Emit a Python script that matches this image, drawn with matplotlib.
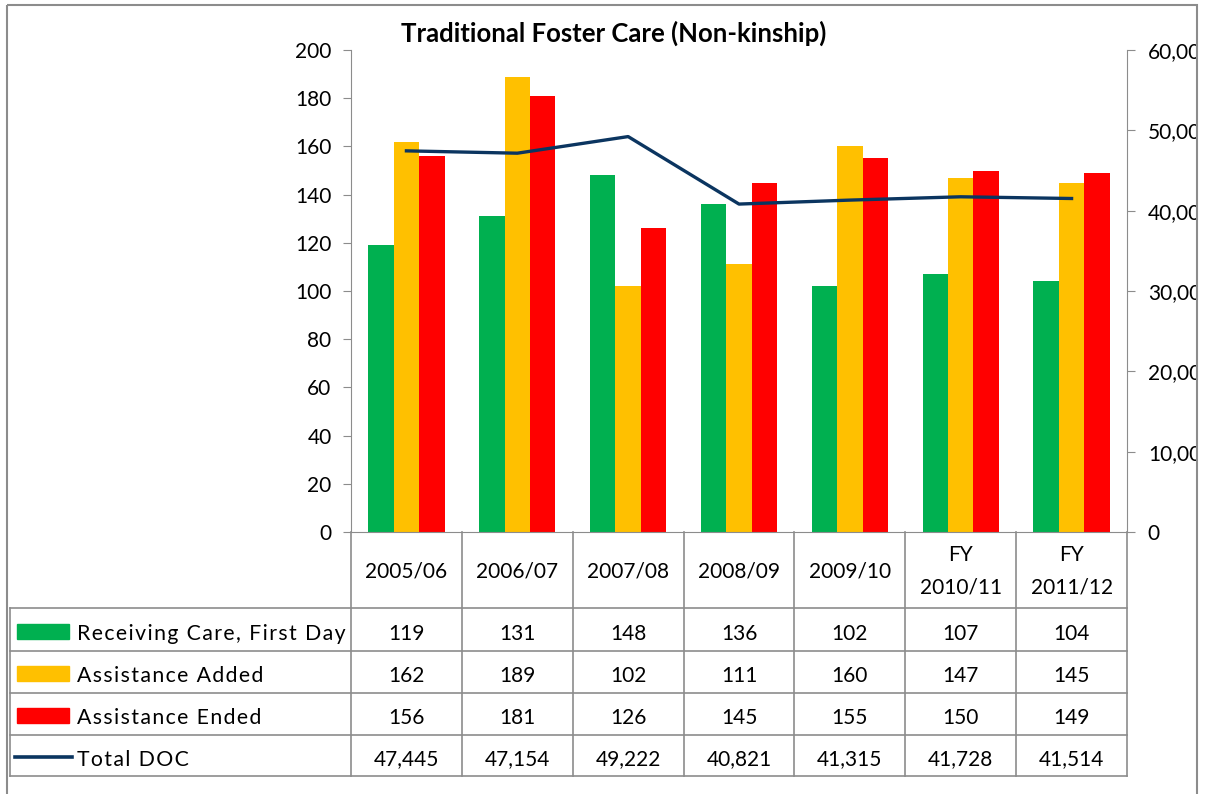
import numpy as np
import matplotlib.pyplot as plt
from matplotlib.patches import Rectangle
from matplotlib.ticker import FuncFormatter, MultipleLocator

plt.rcParams['font.family'] = ['Lato', 'DejaVu Sans']

years = ['2005/06', '2006/07', '2007/08', '2008/09', '2009/10', 'FY\n2010/11', 'FY\n2011/12']
receiving = [119, 131, 148, 136, 102, 107, 104]
added = [162, 189, 102, 111, 160, 147, 145]
ended = [156, 181, 126, 145, 155, 150, 149]
total_doc = [47445, 47154, 49222, 40821, 41315, 41728, 41514]

names = ['Receiving Care, First Day', 'Assistance Added', 'Assistance Ended', 'Total DOC']
colors = ['#00B050', '#FFC000', '#FF0000']
line_col = '#0B3560'
grey = '#8C8C8C'

W, H = 1223, 794
fig = plt.figure(figsize=(W / 100, H / 100), dpi=100)


def box(x0, y0, x1, y1):
    # pixel box (top-left origin) -> figure fraction
    return [x0 / W, 1 - y1 / H, (x1 - x0) / W, (y1 - y0) / H]


def spaced(s):
    # excel draws the legend labels with wide letter spacing
    return '\u200a'.join(s)


ax = fig.add_axes(box(351, 50, 1127, 532))
x = np.arange(len(years))
bw = 0.229
for k, vals in enumerate([receiving, added, ended]):
    ax.bar(x + (k - 1) * bw, vals, bw, color=colors[k], zorder=2)
ax.set_xlim(-0.5, len(years) - 0.5)
ax.set_ylim(0, 200)
ax.yaxis.set_major_locator(MultipleLocator(20))
ax.set_xticks([])
ax.tick_params(axis='y', labelsize=15, length=6, color=grey, pad=8)
for s in ['top', 'right']:
    ax.spines[s].set_visible(False)
for s in ['left', 'bottom']:
    ax.spines[s].set_color(grey)

ax2 = ax.twinx()
ax2.plot(x, total_doc, color=line_col, lw=2.4, zorder=3)
ax2.set_ylim(0, 60000)
ax2.yaxis.set_major_locator(MultipleLocator(10000))
ax2.yaxis.set_major_formatter(FuncFormatter(lambda v, p: '{:,.0f}'.format(v)))
ax2.tick_params(axis='y', labelsize=15, length=6, color=grey, pad=9)
for s in ['top', 'left', 'bottom']:
    ax2.spines[s].set_visible(False)
ax2.spines['right'].set_color(grey)

# overlay in pixel coordinates for the data table and frame
ov = fig.add_axes([0, 0, 1, 1], zorder=5)
ov.set_xlim(0, W)
ov.set_ylim(H, 0)
ov.axis('off')
ov.patch.set_alpha(0)

edges = np.linspace(351, 1127, len(years) + 1)
centers = (edges[:-1] + edges[1:]) / 2
rows = [608, 651, 693, 735, 776]
lk = dict(color=grey, lw=1.2)
for e in edges:
    ov.plot([e, e], [532, rows[-1]], **lk)
for r in rows:
    ov.plot([10, 1127], [r, r], **lk)
ov.plot([10, 10], [rows[0], rows[-1]], **lk)

for c, lab in zip(centers, years):
    ov.text(c, 571, lab, ha='center', va='center', fontsize=15, linespacing=1.75)

table_vals = [receiving, added, ended, [f'{v:,}' for v in total_doc]]
for i, vals in enumerate(table_vals):
    yc = (rows[i] + rows[i + 1]) / 2 + 4
    for c, v in zip(centers, vals):
        ov.text(c, yc, str(v), ha='center', va='center', fontsize=15)
    if i < 3:
        ov.add_patch(Rectangle((17, yc - 10), 52, 15, color=colors[i]))
    else:
        ov.plot([15, 72], [yc - 3, yc - 3], color=line_col, lw=2.6)
    ov.text(77, yc, spaced(names[i]), ha='left', va='center', fontsize=15.3)

ov.text(614, 33, 'Traditional Foster Care (Non-kinship)', ha='center', va='center',
        fontsize=18.5, fontweight='bold')

# chart area frame; labels are clipped at its right edge
ov.add_patch(Rectangle((1198, 0), W - 1198, H, color='white', zorder=6))
ov.add_patch(Rectangle((7, 5), 1190, H, fill=False, edgecolor=grey, lw=1.5, zorder=7))

fig.savefig('out.png', dpi=100)
